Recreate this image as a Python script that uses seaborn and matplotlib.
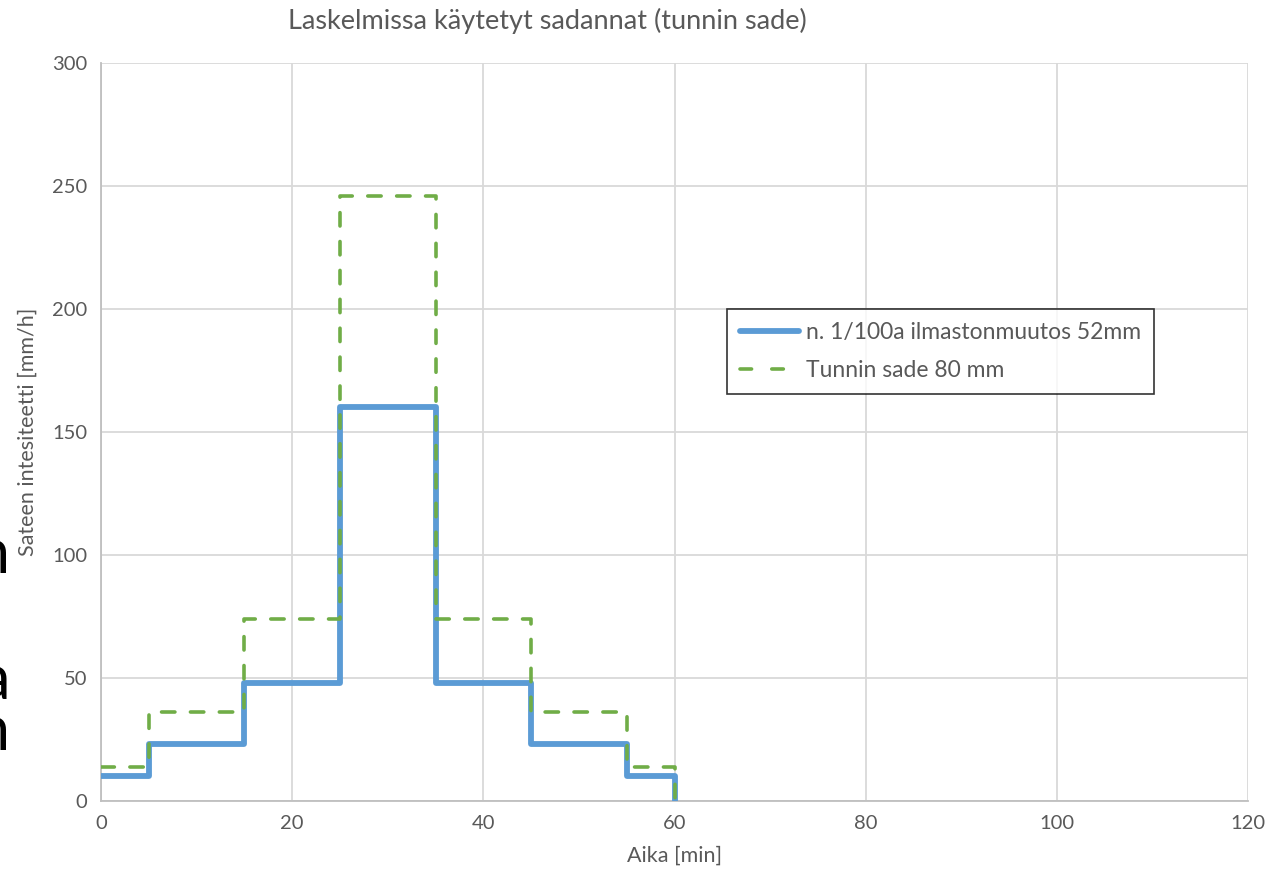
import matplotlib
matplotlib.use("Agg")
import matplotlib.pyplot as plt
import seaborn as sns
import pandas as pd

# Rain event time steps [min] and intensities [mm/h]
time_min = [0, 5, 15, 25, 35, 45, 55, 60]
climate_100a = [10, 23, 48, 160, 48, 23, 10, 0]
hour_rain_80 = [14, 36, 74, 246, 74, 36, 14, 0]

series_names = ["n. 1/100a ilmastonmuutos 52mm", "Tunnin sade 80 mm"]
x_ticks = [0, 20, 40, 60, 80, 100, 120]
y_ticks = [0, 50, 100, 150, 200, 250, 300]

sns.set_theme(style="white")
plt.rcParams["font.family"] = ["Lato", "DejaVu Sans"]

df = pd.DataFrame({"t": time_min, "a": climate_100a, "b": hour_rain_80})

fig = plt.figure(figsize=(12.83, 8.74), dpi=100)
ax = fig.add_axes([101 / 1283, 1 - 801 / 874, 1147 / 1283, 738 / 874])

grey = "#595959"
sns.lineplot(data=df, x="t", y="a", ax=ax, color="#5b9bd5", linewidth=4.2,
             drawstyle="steps-post", label=series_names[0], zorder=3)
sns.lineplot(data=df, x="t", y="b", ax=ax, color="#70ad47", linewidth=2.6,
             drawstyle="steps-post", label=series_names[1], zorder=4,
             dashes=False, linestyle=(0, (3.7, 4.3)), dash_capstyle="round")

ax.set_xlim(0, 120)
ax.set_ylim(0, 300)
ax.set_xticks(x_ticks)
ax.set_yticks(y_ticks)
ax.grid(True, color="#d9d9d9", linewidth=1.3)
ax.set_axisbelow(True)
for side in ["top", "right"]:
    ax.spines[side].set_visible(False)
for side in ["left", "bottom"]:
    ax.spines[side].set_color("#bfbfbf")
    ax.spines[side].set_linewidth(1.3)
ax.tick_params(axis="both", length=0, labelsize=14.5, colors=grey, pad=10)

ax.set_xlabel("Aika [min]", fontsize=15.5, color=grey, labelpad=10)
ax.set_ylabel("Sateen intesiteetti [mm/h]", fontsize=15.5, color=grey, labelpad=10)
fig.text(547 / 1283, 1 - 21 / 874, "Laskelmissa käytetyt sadannat (tunnin sade)",
         ha="center", va="center", fontsize=19.5, color=grey)

leg = ax.legend(loc="upper left", bbox_to_anchor=(0.546, 0.666), fontsize=16.5,
                frameon=True, fancybox=False, handlelength=2.6, handletextpad=0.3,
                borderpad=0.55, labelspacing=0.75, borderaxespad=0)
leg.get_frame().set_edgecolor("black")
leg.get_frame().set_linewidth(1.2)
for txt in leg.get_texts():
    txt.set_color(grey)
# Two even dashes in the legend key for the dashed series
leg.get_lines()[1].set_linestyle((0, (3.2, 5.6)))
leg.get_lines()[1].set_dash_capstyle("round")

# Letters from neighbouring text at the left edge
for ypx, ch in [(573, "n"), (700, "a"), (750, "n")]:
    fig.text(10 / 1283, 1 - ypx / 874, ch, ha="right", va="baseline",
             fontsize=44, color="black")

fig.savefig("out.png", dpi=100)
